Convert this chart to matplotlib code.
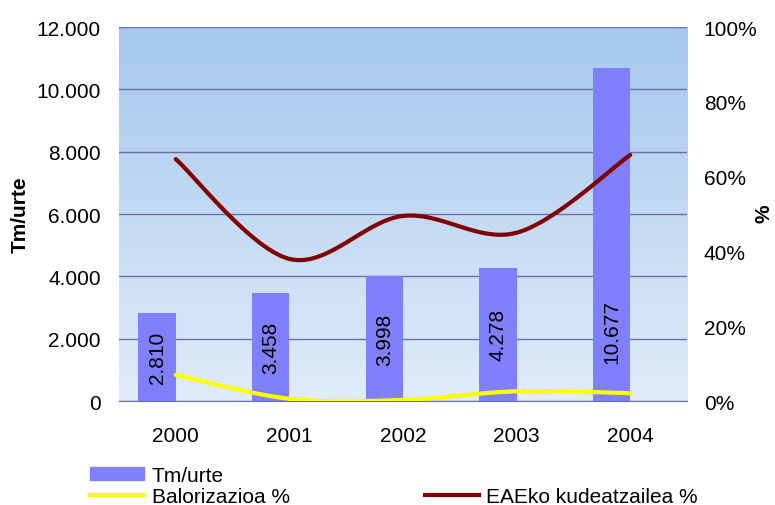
import numpy as np
import matplotlib
matplotlib.use("Agg")
import matplotlib.pyplot as plt
from matplotlib.lines import Line2D
from matplotlib.patches import Patch

plt.rcParams['font.family'] = ['Liberation Sans', 'DejaVu Sans']

years = ['2000', '2001', '2002', '2003', '2004']
tm_urte = [2810, 3458, 3998, 4278, 10677]
tm_labels = ['2.810', '3.458', '3.998', '4.278', '10.677']
balorizazioa = [7.0, 0.6, 0.3, 2.6, 2.1]
eae_kudeatzailea = [64.7, 38.0, 49.5, 45.0, 65.8]
left_ticks = ['0', '2.000', '4.000', '6.000', '8.000', '10.000', '12.000']
right_ticks = ['0%', '20%', '40%', '60%', '80%', '100%']

FS = 15


def smooth(xs, ys, n=30):
    # catmull-rom curve through the points, like excel's smoothed line
    xs = np.asarray(xs, float)
    ys = np.asarray(ys, float)
    px = np.concatenate([[xs[0]], xs, [xs[-1]]])
    py = np.concatenate([[ys[0]], ys, [ys[-1]]])
    outx, outy = [], []
    t = np.linspace(0, 1, n)
    for i in range(1, len(px) - 2):
        for p, out in ((px, outx), (py, outy)):
            p0, p1, p2, p3 = p[i - 1], p[i], p[i + 1], p[i + 2]
            out.extend(0.5 * (2 * p1 + (-p0 + p2) * t
                              + (2 * p0 - 5 * p1 + 4 * p2 - p3) * t ** 2
                              + (-p0 + 3 * p1 - 3 * p2 + p3) * t ** 3))
    return np.array(outx), np.array(outy)


fig = plt.figure(figsize=(7.75, 5.06), dpi=100)
ax = fig.add_axes([0.1535, 0.2055, 0.733, 0.739])
x = np.arange(len(years))

# background gradient
top = np.array([166, 200, 238]) / 255
bot = np.array([224, 236, 249]) / 255
grad = np.linspace(0, 1, 256)[:, None, None]
img = bot + (top - bot) * grad
ax.imshow(img, extent=[0, 1, 0, 1], transform=ax.transAxes, aspect='auto',
          origin='lower', zorder=0)

ax.bar(x, tm_urte, width=-0.33, align='edge', color='#8080ff', zorder=2)
for xi, v, lab in zip(x, tm_urte, tm_labels):
    ax.text(xi - 0.165, min(v / 2, 2250), lab, rotation=90, ha='center',
            va='center', fontsize=FS, zorder=3)

ax.set_xlim(-0.5, 4.5)
ax.set_ylim(0, 12000)
ax.set_yticks(np.arange(0, 12001, 2000))
ax.set_yticklabels(left_ticks, fontsize=FS)
ax.set_xticks(x)
ax.set_xticklabels(years, fontsize=FS)
ax.yaxis.grid(True, color='#6c6cae', linewidth=1)
for g in ax.get_ygridlines():
    g.set_zorder(1)
for s in ['left', 'right', 'top']:
    ax.spines[s].set_visible(False)
ax.spines['bottom'].set_color('#6c6cae')
ax.tick_params(axis='x', length=0, pad=18)
ax.tick_params(axis='y', length=0, pad=13)

ax2 = ax.twinx()
ax2.set_ylim(0, 100)
sx, sy = smooth(x, balorizazioa)
ax2.plot(sx, sy, color='#ffff00', linewidth=3, solid_capstyle='round')
sx, sy = smooth(x, eae_kudeatzailea)
ax2.plot(sx, sy, color='#800000', linewidth=3, solid_capstyle='round')
ax2.set_yticks(np.arange(0, 101, 20))
ax2.set_yticklabels(right_ticks, fontsize=FS)
ax2.tick_params(length=0, pad=12)
for s in ax2.spines.values():
    s.set_visible(False)

fig.text(20 / 775, 1 - 215 / 506, 'Tm/urte', rotation=90, ha='center',
         va='center', fontsize=FS, fontweight='bold')
fig.text(764 / 775, 1 - 214 / 506, '%', rotation=90, ha='center',
         va='center', fontsize=FS, fontweight='bold')

handles = [Patch(color='#8080ff'),
           Line2D([], [], color='#ffff00', linewidth=3),
           Line2D([], [], color='none'),
           Line2D([], [], color='#800000', linewidth=3)]
labels = ['Tm/urte', 'Balorizazioa %', '', 'EAEko kudeatzailea %']
fig.legend(handles, labels, ncol=2, loc='lower left',
           bbox_to_anchor=(0.092, -0.039), frameon=False, fontsize=FS,
           handlelength=2.6, handleheight=0.6, handletextpad=0.35,
           labelspacing=0.1, columnspacing=6.5)

fig.savefig('out.png', dpi=100)
